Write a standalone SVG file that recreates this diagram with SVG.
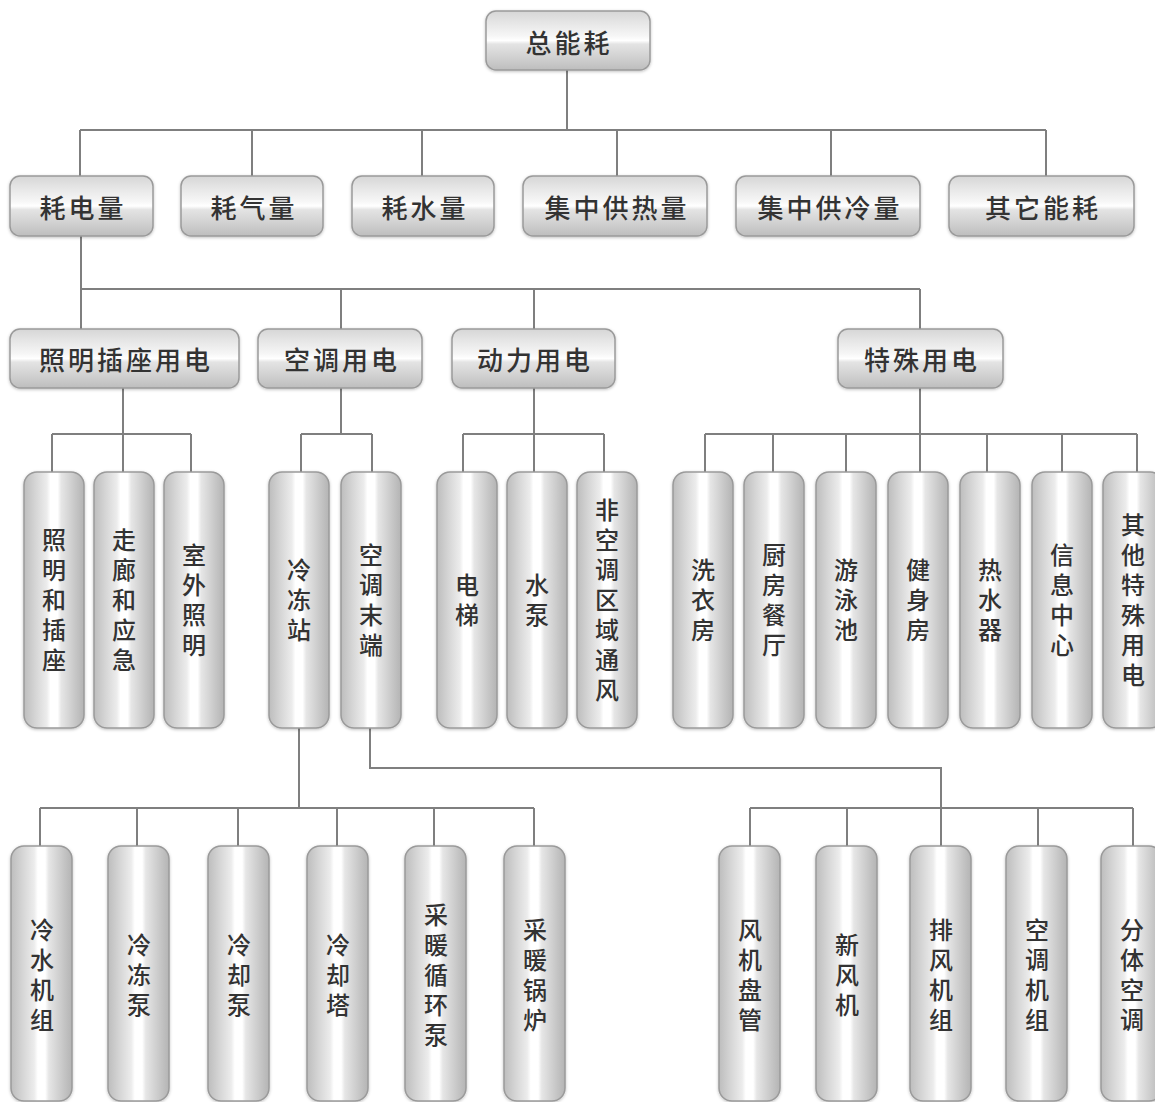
<svg xmlns="http://www.w3.org/2000/svg" width="1155" height="1102" viewBox="0 0 1155 1102">
<defs>
<linearGradient id="gh" x1="0" y1="0" x2="0" y2="1">
<stop offset="0" stop-color="#d6d6d6"/>
<stop offset="0.2" stop-color="#e6e6e6"/>
<stop offset="0.42" stop-color="#f6f6f6"/>
<stop offset="0.5" stop-color="#ffffff"/>
<stop offset="0.56" stop-color="#e4e4e4"/>
<stop offset="0.85" stop-color="#cbcbcb"/>
<stop offset="1" stop-color="#bdbdbd"/>
</linearGradient>
<linearGradient id="gv" x1="0" y1="0" x2="1" y2="0">
<stop offset="0" stop-color="#bdbdbd"/>
<stop offset="0.18" stop-color="#d4d4d4"/>
<stop offset="0.38" stop-color="#ececec"/>
<stop offset="0.44" stop-color="#ffffff"/>
<stop offset="0.56" stop-color="#ffffff"/>
<stop offset="0.62" stop-color="#e6e6e6"/>
<stop offset="0.86" stop-color="#c6c6c6"/>
<stop offset="1" stop-color="#b4b4b4"/>
</linearGradient>
<filter id="sh" x="-20%" y="-20%" width="140%" height="140%">
<feDropShadow dx="0" dy="1" stdDeviation="1.5" flood-color="#000" flood-opacity="0.25"/>
</filter>
</defs>
<style>
.h{fill:url(#gh);stroke:#9a9a9a;stroke-width:1.5;filter:url(#sh)}
.v{fill:url(#gv);stroke:#9a9a9a;stroke-width:1.5;filter:url(#sh)}
.ht{font-family:"Noto Sans CJK SC","Noto Sans",sans-serif;font-size:26px;font-weight:500;letter-spacing:3px;fill:#333333;text-anchor:middle;dominant-baseline:central}
.vt{font-family:"Noto Sans CJK SC","Noto Sans",sans-serif;font-size:24px;font-weight:500;letter-spacing:6px;fill:#333333;text-anchor:middle;writing-mode:vertical-rl}
.c{fill:none;stroke:#7f7f7f;stroke-width:2}
</style>
<rect width="1155" height="1102" fill="#ffffff"/>
<g id="connectors">
<path class="c" d="M567 70V130M80 130H1046M80 130V176M252 130V176M422 130V176M617 130V176M831 130V176M1046 130V176"/>
<path class="c" d="M81 236V329M81 289H920M341 289V329M534 289V329M920 289V329"/>
<path class="c" d="M123 388V434M52 434H191M52 434V472M123 434V472M191 434V472"/>
<path class="c" d="M341 388V434M301 434H372M301 434V472M372 434V472"/>
<path class="c" d="M534 388V434M463 434H604M463 434V472M534 434V472M604 434V472"/>
<path class="c" d="M920 388V434M705 434H1137M705 434V472M773 434V472M846 434V472M920 434V472M987 434V472M1062 434V472M1137 434V472"/>
<path class="c" d="M299 728V808M40 808H534M40 808V846M137 808V846M238 808V846M337 808V846M434 808V846M534 808V846"/>
<path class="c" d="M370 728V768H941V808M750 808H1133M750 808V846M847 808V846M941 808V846M1038 808V846M1133 808V846"/>
</g>
<g id="n-total"><rect class="h" x="486" y="11" width="164" height="59" rx="10"/><text class="ht" x="569" y="41">总能耗</text></g>
<g id="n-elec"><rect class="h" x="10" y="176" width="143" height="60" rx="10"/><text class="ht" x="83" y="206">耗电量</text></g>
<g id="n-gas"><rect class="h" x="181" y="176" width="142" height="60" rx="10"/><text class="ht" x="254" y="206">耗气量</text></g>
<g id="n-water"><rect class="h" x="352" y="176" width="142" height="60" rx="10"/><text class="ht" x="425" y="206">耗水量</text></g>
<g id="n-heat"><rect class="h" x="523" y="176" width="184" height="60" rx="10"/><text class="ht" x="617" y="206">集中供热量</text></g>
<g id="n-cool"><rect class="h" x="736" y="176" width="184" height="60" rx="10"/><text class="ht" x="830" y="206">集中供冷量</text></g>
<g id="n-other"><rect class="h" x="949" y="176" width="185" height="60" rx="10"/><text class="ht" x="1043" y="206">其它能耗</text></g>
<g id="n-light"><rect class="h" x="10" y="329" width="229" height="59" rx="10"/><text class="ht" x="126" y="358">照明插座用电</text></g>
<g id="n-ac"><rect class="h" x="258" y="329" width="164" height="59" rx="10"/><text class="ht" x="342" y="358">空调用电</text></g>
<g id="n-power"><rect class="h" x="452" y="329" width="163" height="59" rx="10"/><text class="ht" x="535" y="358">动力用电</text></g>
<g id="n-special"><rect class="h" x="838" y="329" width="165" height="59" rx="10"/><text class="ht" x="922" y="358">特殊用电</text></g>
<g id="n-l1"><rect class="v" x="24" y="472" width="60" height="256" rx="13"/><text class="vt" x="54" y="603">照明和插座</text></g>
<g id="n-l2"><rect class="v" x="94" y="472" width="60" height="256" rx="13"/><text class="vt" x="124" y="603">走廊和应急</text></g>
<g id="n-l3"><rect class="v" x="164" y="472" width="60" height="256" rx="13"/><text class="vt" x="194" y="603">室外照明</text></g>
<g id="n-a1"><rect class="v" x="269" y="472" width="60" height="256" rx="13"/><text class="vt" x="299" y="603">冷冻站</text></g>
<g id="n-a2"><rect class="v" x="341" y="472" width="60" height="256" rx="13"/><text class="vt" x="371" y="603">空调末端</text></g>
<g id="n-p1"><rect class="v" x="437" y="472" width="60" height="256" rx="13"/><text class="vt" x="467" y="603">电梯</text></g>
<g id="n-p2"><rect class="v" x="507" y="472" width="60" height="256" rx="13"/><text class="vt" x="537" y="603">水泵</text></g>
<g id="n-p3"><rect class="v" x="577" y="472" width="60" height="256" rx="13"/><text class="vt" x="607" y="603">非空调区域通风</text></g>
<g id="n-s1"><rect class="v" x="673" y="472" width="60" height="256" rx="13"/><text class="vt" x="703" y="603">洗衣房</text></g>
<g id="n-s2"><rect class="v" x="744" y="472" width="60" height="256" rx="13"/><text class="vt" x="774" y="603">厨房餐厅</text></g>
<g id="n-s3"><rect class="v" x="816" y="472" width="60" height="256" rx="13"/><text class="vt" x="846" y="603">游泳池</text></g>
<g id="n-s4"><rect class="v" x="888" y="472" width="60" height="256" rx="13"/><text class="vt" x="918" y="603">健身房</text></g>
<g id="n-s5"><rect class="v" x="960" y="472" width="60" height="256" rx="13"/><text class="vt" x="990" y="603">热水器</text></g>
<g id="n-s6"><rect class="v" x="1032" y="472" width="60" height="256" rx="13"/><text class="vt" x="1062" y="603">信息中心</text></g>
<g id="n-s7"><rect class="v" x="1103" y="472" width="60" height="256" rx="13"/><text class="vt" x="1133" y="603">其他特殊用电</text></g>
<g id="n-c1"><rect class="v" x="11" y="846" width="61" height="255" rx="13"/><text class="vt" x="42" y="978">冷水机组</text></g>
<g id="n-c2"><rect class="v" x="108" y="846" width="61" height="255" rx="13"/><text class="vt" x="139" y="978">冷冻泵</text></g>
<g id="n-c3"><rect class="v" x="208" y="846" width="61" height="255" rx="13"/><text class="vt" x="239" y="978">冷却泵</text></g>
<g id="n-c4"><rect class="v" x="307" y="846" width="61" height="255" rx="13"/><text class="vt" x="338" y="978">冷却塔</text></g>
<g id="n-c5"><rect class="v" x="405" y="846" width="61" height="255" rx="13"/><text class="vt" x="436" y="978">采暖循环泵</text></g>
<g id="n-c6"><rect class="v" x="504" y="846" width="61" height="255" rx="13"/><text class="vt" x="535" y="978">采暖锅炉</text></g>
<g id="n-e1"><rect class="v" x="719" y="846" width="61" height="255" rx="13"/><text class="vt" x="750" y="978">风机盘管</text></g>
<g id="n-e2"><rect class="v" x="816" y="846" width="61" height="255" rx="13"/><text class="vt" x="847" y="978">新风机</text></g>
<g id="n-e3"><rect class="v" x="910" y="846" width="61" height="255" rx="13"/><text class="vt" x="941" y="978">排风机组</text></g>
<g id="n-e4"><rect class="v" x="1006" y="846" width="61" height="255" rx="13"/><text class="vt" x="1037" y="978">空调机组</text></g>
<g id="n-e5"><rect class="v" x="1101" y="846" width="61" height="255" rx="13"/><text class="vt" x="1132" y="978">分体空调</text></g>
</svg>
